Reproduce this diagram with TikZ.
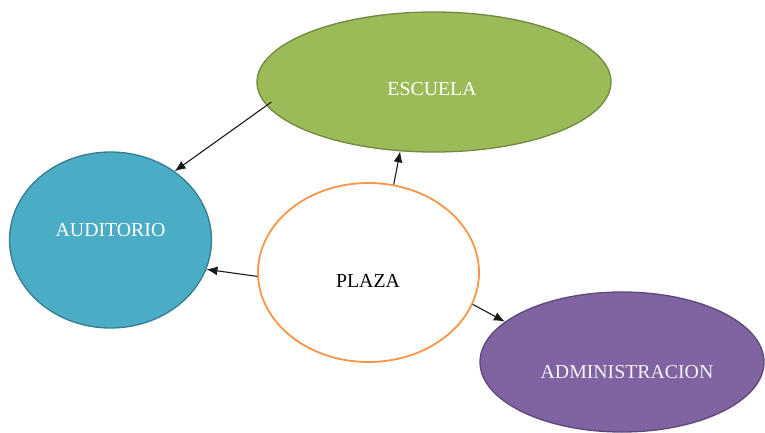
\documentclass[tikz,border=0pt]{standalone}
\usepackage{fontspec}
\setmainfont{Liberation Serif}
\usetikzlibrary{shapes.geometric,arrows.meta}
\definecolor{escFill}{HTML}{9BBB59}
\definecolor{escLine}{HTML}{71893F}
\definecolor{audFill}{HTML}{4BACC6}
\definecolor{audLine}{HTML}{357D91}
\definecolor{admFill}{HTML}{8064A2}
\definecolor{admLine}{HTML}{5C4776}
\definecolor{plzLine}{HTML}{F79646}
\tikzset{
  blob/.style={ellipse, inner sep=0pt, line width=1.3pt},
  lbl/.style={font=\fontsize{19.8}{22}\selectfont, inner sep=0pt},
  conn/.style={line width=1.1pt, draw=black!90, -{Latex[length=11pt,width=9pt]}}
}
\begin{document}
\begin{tikzpicture}[x=1pt,y=-1pt]
\useasboundingbox (0,0) rectangle (765,432);
\clip (0,0) rectangle (765,432);
\fill[white] (0,0) rectangle (765,432);
\node[blob, fill=escFill, draw=escLine, minimum width=354pt, minimum height=140pt] (esc) at (434,82) {};
\node[blob, fill=audFill, draw=audLine, minimum width=202pt, minimum height=176pt] (aud) at (110.5,240) {};
\node[blob, fill=white, draw=plzLine, line width=1.8pt, minimum width=221pt, minimum height=179pt] (plz) at (368.5,272.5) {};
\node[blob, fill=admFill, draw=admLine, minimum width=284pt, minimum height=140pt] (adm) at (622,362) {};
\node[lbl, text=white] (escT) at (432,89) {ESCUELA};
\node[lbl, text=white] (audT) at (110.5,230) {AUDITORIO};
\node[lbl, text=black] (plzT) at (368,281) {PLAZA};
\node[lbl, text=white!92!admFill] (admT) at (627,372) {ADMINISTRACION};
\draw[conn, shorten <=-6pt] (esc.188.4) -- (aud.47);
\draw[conn] (plz.74) -- (esc.244);
\draw[conn] (plz.182) -- (aud.343);
\draw[conn] (plz.343) -- (adm.161);
\end{tikzpicture}
\end{document}
